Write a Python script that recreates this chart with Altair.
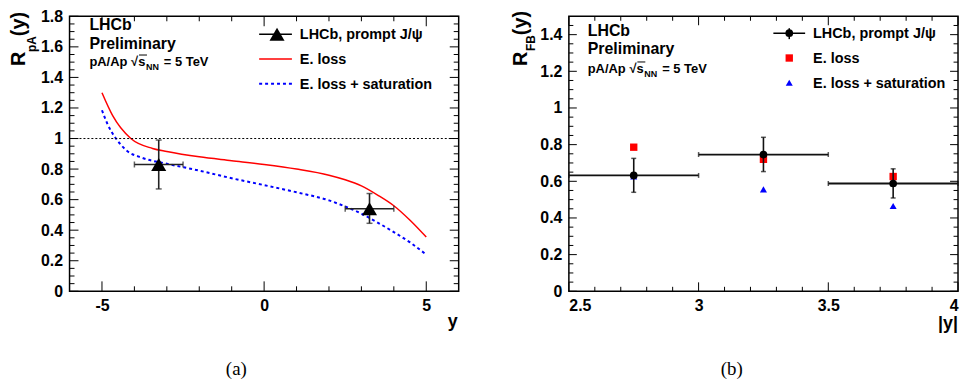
import altair as alt
import pandas as pd

FONT = "Liberation Sans"
SERIF = "Liberation Serif"

# ---------------- Panel (a): R_pA(y) ----------------
eloss_x = [-5, -4.67, -4.11, -3.44, -3, -2, -1, 0, 1, 2, 2.5, 3, 3.5, 4, 4.5, 5]
eloss_y = [1.30, 1.15, 1.00, 0.935, 0.915, 0.88, 0.855, 0.83, 0.80, 0.76, 0.73, 0.69, 0.63, 0.56, 0.465, 0.355]
sat_x = [-5, -4.82, -4.57, -4.26, -3.75, -3, -2, -1, 0, 1, 2, 2.5, 3, 3.5, 4, 4.5, 5]
sat_y = [1.185, 1.09, 1.00, 0.925, 0.873, 0.835, 0.79, 0.74, 0.695, 0.648, 0.595, 0.555, 0.508, 0.45, 0.3875, 0.32, 0.24]

a_y = [-3.25, 3.25]
a_r = [0.83, 0.54]
a_xlo = [-4.0, 2.5]
a_xhi = [-2.5, 4.0]
a_ylo = [0.67, 0.445]
a_yhi = [0.99, 0.64]

a_xticks_major = [-5, 0, 5]
a_xticks_minor = [-4, -3, -2, -1, 1, 2, 3, 4]
a_yticks_major = [0, 0.2, 0.4, 0.6, 0.8, 1.0, 1.2, 1.4, 1.6, 1.8]
a_yticks_minor = [round(0.05 * i, 2) for i in range(1, 36) if i % 4 != 0]

# ---------------- Panel (b): R_FB(|y|) ----------------
b_y = [2.75, 3.25, 3.75]
b_r = [0.632, 0.746, 0.588]
b_xlo = [2.5, 3.0, 3.5]
b_xhi = [3.0, 3.5, 4.0]
b_ylo = [0.54, 0.653, 0.509]
b_yhi = [0.725, 0.84, 0.668]
b_eloss = [0.786, 0.72, 0.626]
b_sat = [0.626, 0.556, 0.465]

b_xticks_major = [2.5, 3.0, 3.5, 4.0]
b_xticks_minor = [2.6, 2.7, 2.8, 2.9, 3.1, 3.2, 3.3, 3.4, 3.6, 3.7, 3.8, 3.9]
b_yticks_major = [0, 0.2, 0.4, 0.6, 0.8, 1.0, 1.2, 1.4]
b_yticks_minor = [round(0.05 * i, 2) for i in range(1, 30) if i % 4 != 0]

W, H = 392, 277
ONE = alt.Data(values=[{"k": 1}])


def txt(x, y, s, size=16, weight="bold", align="left", baseline="alphabetic",
        angle=0, font=FONT, color="black"):
    return alt.Chart(ONE).mark_text(
        text=s, fontSize=size, fontWeight=weight, align=align, baseline=baseline,
        angle=angle, font=font, color=color
    ).encode(x=alt.value(x), y=alt.value(y))


def hline(x1, x2, y, color="black", width=1.5, dash=None):
    kw = dict(color=color, strokeWidth=width)
    if dash:
        kw["strokeDash"] = dash
    return alt.Chart(ONE).mark_rule(**kw).encode(x=alt.value(x1), x2=alt.value(x2), y=alt.value(y))


def vline(x, y1, y2, color="black", width=1.5):
    return alt.Chart(ONE).mark_rule(color=color, strokeWidth=width).encode(
        x=alt.value(x), y=alt.value(y1), y2=alt.value(y2))


def sym(x, y, shape, size, color):
    return alt.Chart(ONE).mark_point(shape=shape, filled=True, size=size, color=color,
                                     opacity=1, strokeWidth=0).encode(
        x=alt.value(x), y=alt.value(y))


def ticks(vals, axis, length, xs, ys, xax, yax):
    df = pd.DataFrame({"v": vals})
    base = alt.Chart(df).mark_rule(color="black", strokeWidth=1)
    if axis == "x":
        enc = dict(x=alt.X("v:Q", scale=xs, axis=xax))
        return [base.encode(y=alt.value(H), y2=alt.value(H - length), **enc),
                base.encode(y=alt.value(0), y2=alt.value(length), **enc)]
    enc = dict(y=alt.Y("v:Q", scale=ys, axis=yax))
    return [base.encode(x=alt.value(0), x2=alt.value(length), **enc),
            base.encode(x=alt.value(W), x2=alt.value(W - length), **enc)]


def sqrt_s(x, y):
    # "pA/Ap  sqrt(s_NN) = 5 TeV"
    return [txt(x, y, "pA/Ap", size=13), txt(x + 42, y, "√s", size=13),
            hline(x + 50, x + 58, y - 11, width=1),
            txt(x + 57, y + 4, "NN", size=9), txt(x + 75, y, "= 5 TeV", size=13)]


label_kw = dict(title=None, ticks=False, domain=False, grid=False, labelFont=FONT,
                labelFontWeight="bold", labelFontSize=16, labelColor="black")

# ---- panel (a) ----
xs_a = alt.Scale(domain=[-6, 6], nice=False, zero=False)
ys_a = alt.Scale(domain=[0, 1.8], nice=False, zero=False)
xax_a = alt.Axis(values=a_xticks_major, labelPadding=6,
                 labelExpr="datum.value < 0 ? '-' + abs(datum.value) : '' + datum.value", **label_kw)
yax_a = alt.Axis(values=a_yticks_major, format=".1~f", labelPadding=7, **label_kw)

red = alt.Chart(pd.DataFrame({"x": eloss_x, "y": eloss_y})).mark_line(
    color="#ff0000", strokeWidth=1.5, interpolate="monotone").encode(
    x=alt.X("x:Q", scale=xs_a, axis=xax_a), y=alt.Y("y:Q", scale=ys_a, axis=yax_a))
blue = alt.Chart(pd.DataFrame({"x": sat_x, "y": sat_y})).mark_line(
    color="#0000ff", strokeWidth=2, strokeDash=[3, 3], interpolate="monotone").encode(
    x=alt.X("x:Q", scale=xs_a, axis=xax_a), y=alt.Y("y:Q", scale=ys_a, axis=yax_a))
unity = alt.Chart(pd.DataFrame({"y": [1.0]})).mark_rule(
    color="black", strokeWidth=1, strokeDash=[2, 2]).encode(y=alt.Y("y:Q", scale=ys_a, axis=yax_a))

pts_a = pd.DataFrame({"y": a_y, "r": a_r, "xlo": a_xlo, "xhi": a_xhi, "ylo": a_ylo, "yhi": a_yhi})
X_a = lambda f: alt.X(f + ":Q", scale=xs_a, axis=xax_a)
Y_a = lambda f: alt.Y(f + ":Q", scale=ys_a, axis=yax_a)
eb = alt.Chart(pts_a)
a_layers = [
    red, blue, unity,
    eb.mark_rule(color="#222", strokeWidth=1.6).encode(x=X_a("xlo"), x2="xhi", y=Y_a("r")),
    eb.mark_rule(color="#222", strokeWidth=1.6).encode(x=X_a("y"), y=Y_a("ylo"), y2="yhi"),
    eb.mark_tick(orient="vertical", size=6, thickness=1.5, color="#222").encode(x=X_a("xlo"), y=Y_a("r")),
    eb.mark_tick(orient="vertical", size=6, thickness=1.5, color="#222").encode(x=X_a("xhi"), y=Y_a("r")),
    eb.mark_tick(orient="horizontal", size=6, thickness=1.5, color="#222").encode(x=X_a("y"), y=Y_a("ylo")),
    eb.mark_tick(orient="horizontal", size=6, thickness=1.5, color="#222").encode(x=X_a("y"), y=Y_a("yhi")),
    eb.mark_point(shape="triangle-up", filled=True, size=230, color="black", opacity=1).encode(
        x=X_a("y"), y=Y_a("r")),
]
a_layers += ticks(a_xticks_major, "x", 10, xs_a, ys_a, xax_a, yax_a)
a_layers += ticks(a_xticks_minor, "x", 5, xs_a, ys_a, xax_a, yax_a)
a_layers += ticks(a_yticks_major, "y", 9, xs_a, ys_a, xax_a, yax_a)
a_layers += ticks(a_yticks_minor, "y", 5, xs_a, ys_a, xax_a, yax_a)
a_layers += [txt(20, 14, "LHCb"), txt(20, 33, "Preliminary")]
a_layers += sqrt_s(20, 50)
a_layers += [
    hline(191, 224, 18), sym(209, 18, "triangle-up", 230, "black"),
    txt(232, 23, "LHCb, prompt J/ψ", size=14.5),
    hline(191, 224, 43, color="#ff0000"), txt(232, 48, "E. loss", size=14.5),
    hline(191, 224, 68, color="#0000ff", width=2, dash=[3, 3]),
    txt(232, 73, "E. loss + saturation", size=14.5),
    txt(-45, 50, "R", size=20, angle=270), txt(-34, 36, "pA", size=12, angle=270),
    txt(-45, 20, "(y)", size=20, angle=270),
    txt(W - 1, H + 36, "y", size=18, align="right"),
    txt(168, H + 84, "(a)", size=19, weight="normal", font=SERIF, align="center"),
]
panel_a = alt.layer(*a_layers).properties(width=W, height=H)

# ---- panel (b) ----
xs_b = alt.Scale(domain=[2.5, 4.0], nice=False, zero=False)
ys_b = alt.Scale(domain=[0, 1.5], nice=False, zero=False)
xax_b = alt.Axis(values=b_xticks_major, format="~g", labelPadding=6, **label_kw)
yax_b = alt.Axis(values=b_yticks_major, format=".1~f", labelPadding=7, **label_kw)
X_b = lambda f: alt.X(f + ":Q", scale=xs_b, axis=xax_b)
Y_b = lambda f: alt.Y(f + ":Q", scale=ys_b, axis=yax_b)
pts_b = pd.DataFrame({"y": b_y, "r": b_r, "xlo": b_xlo, "xhi": b_xhi, "ylo": b_ylo, "yhi": b_yhi,
                      "eloss": b_eloss, "sat": b_sat})
pb = alt.Chart(pts_b)
b_layers = [
    pb.mark_point(shape="square", filled=True, size=55, color="#ff0000", opacity=1).encode(
        x=X_b("y"), y=Y_b("eloss")),
    pb.mark_point(shape="triangle-up", filled=True, size=50, color="#0000ff", opacity=1).encode(
        x=X_b("y"), y=Y_b("sat")),
    pb.mark_rule(color="#111", strokeWidth=1.8).encode(x=X_b("xlo"), x2="xhi", y=Y_b("r")),
    pb.mark_rule(color="#111", strokeWidth=1.6).encode(x=X_b("y"), y=Y_b("ylo"), y2="yhi"),
    pb.mark_tick(orient="vertical", size=5, thickness=1.5, color="#111").encode(x=X_b("xlo"), y=Y_b("r")),
    pb.mark_tick(orient="vertical", size=5, thickness=1.5, color="#111").encode(x=X_b("xhi"), y=Y_b("r")),
    pb.mark_tick(orient="horizontal", size=5, thickness=1.5, color="#111").encode(x=X_b("y"), y=Y_b("ylo")),
    pb.mark_tick(orient="horizontal", size=5, thickness=1.5, color="#111").encode(x=X_b("y"), y=Y_b("yhi")),
    pb.mark_point(shape="circle", filled=True, size=60, color="black", opacity=1).encode(
        x=X_b("y"), y=Y_b("r")),
]
b_layers += ticks(b_xticks_major, "x", 9, xs_b, ys_b, xax_b, yax_b)
b_layers += ticks(b_xticks_minor, "x", 4.5, xs_b, ys_b, xax_b, yax_b)
b_layers += ticks(b_yticks_major, "y", 8, xs_b, ys_b, xax_b, yax_b)
b_layers += ticks(b_yticks_minor, "y", 4.5, xs_b, ys_b, xax_b, yax_b)
b_layers += [txt(19, 20, "LHCb"), txt(19, 38, "Preliminary")]
b_layers += sqrt_s(19, 57)
b_layers += [
    hline(206, 238, 17), vline(222, 12, 23), sym(222, 17, "circle", 60, "black"),
    txt(246, 22, "LHCb, prompt J/ψ", size=14.5),
    sym(222, 42, "square", 55, "#ff0000"), txt(246, 47, "E. loss", size=14.5),
    sym(222, 67, "triangle-up", 50, "#0000ff"), txt(246, 72, "E. loss + saturation", size=14.5),
    txt(-42, 50, "R", size=20, angle=270), txt(-34, 35, "FB", size=12, angle=270),
    txt(-42, 19, "(y)", size=20, angle=270),
    txt(W, H + 38, "|y|", size=18, align="right"),
    txt(164, H + 84, "(b)", size=19, weight="normal", font=SERIF, align="center"),
]
panel_b = alt.layer(*b_layers).properties(width=W, height=H)

chart = alt.hconcat(panel_a, panel_b, spacing=111, bounds="flush").properties(
    padding={"left": 0, "top": -2, "right": 0, "bottom": 0}, background="white"
).configure_view(stroke="black", strokeWidth=1.5)

chart.save("out.html", embed_options={"renderer": "svg", "actions": False})
